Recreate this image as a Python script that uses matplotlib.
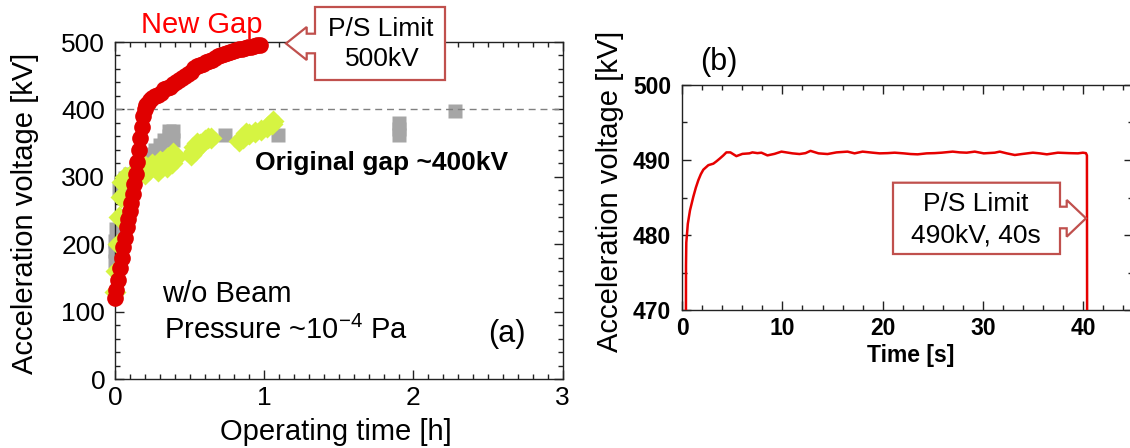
import matplotlib
matplotlib.use("Agg")
import matplotlib.pyplot as plt
from matplotlib.patches import Polygon
from matplotlib.ticker import MultipleLocator

plt.rcParams["font.family"] = ["Liberation Sans", "DejaVu Sans"]
plt.rcParams["mathtext.fontset"] = "custom"
plt.rcParams["mathtext.rm"] = "Liberation Sans"

# =========================
# (a) Konditionierung: Spannung über Betriebszeit
# =========================
new_gap_t = [0.0, 0.01, 0.022, 0.035, 0.045, 0.056, 0.068, 0.08, 0.09, 0.1,
             0.11, 0.12, 0.13, 0.14, 0.15, 0.16, 0.17, 0.18, 0.19, 0.2,
             0.21, 0.22, 0.235, 0.25, 0.27, 0.29, 0.31, 0.33, 0.35, 0.37,
             0.39, 0.41, 0.43, 0.45, 0.47, 0.49, 0.51, 0.53, 0.55, 0.57,
             0.59, 0.61, 0.63, 0.65, 0.67, 0.69, 0.71, 0.73, 0.75, 0.77,
             0.79, 0.81, 0.83, 0.85, 0.87, 0.89, 0.91, 0.93, 0.95, 0.97]
new_gap_kv = [120, 133, 147, 165, 180, 196, 210, 225, 238, 250,
              262, 275, 290, 305, 322, 340, 358, 374, 390, 400,
              406, 410, 414, 417, 420, 422, 425, 430, 432, 434,
              437, 440, 444, 447, 450, 453, 456, 461, 464, 466,
              468, 470, 472, 474, 477, 479, 481, 482, 484, 485,
              487, 488, 489, 490, 491, 492, 493, 494, 495, 496]

orig_gray_t = [0.0, 0.0, 0.003, 0.005, 0.03, 0.04, 0.07, 0.1, 0.14, 0.18,
               0.21, 0.24, 0.27, 0.3, 0.33, 0.36, 0.38, 0.39, 0.36, 0.39,
               0.74, 1.095, 1.905, 1.905, 1.905, 2.28]
orig_gray_kv = [175, 190, 205, 222, 282, 292, 298, 305, 312, 320,
                328, 334, 340, 347, 354, 360, 365, 368, 368, 355,
                362, 362, 362, 371, 380, 397]

orig_green_t = [0.0, 0.01, 0.02, 0.03, 0.04, 0.05, 0.07, 0.1, 0.12, 0.2,
                0.29, 0.35, 0.38, 0.4, 0.15, 0.2, 0.25, 0.3, 0.35, 0.39,
                0.51, 0.53, 0.55, 0.57, 0.6, 0.62, 0.64, 0.55, 0.53,
                0.83, 0.86, 0.88, 0.9, 0.94, 0.98, 1.02, 1.05, 1.06]
orig_green_kv = [130, 160, 200, 240, 270, 292, 300, 302, 303, 305,
                 308, 314, 320, 328, 312, 316, 319, 323, 328, 336,
                 333, 338, 343, 349, 354, 357, 358, 350, 345,
                 353, 358, 365, 364, 366, 370, 374, 378, 383]

orig_level_kv = 400

# =========================
# (b) Haltetest bei 490 kV
# =========================
hold_t = [0.36, 0.37, 0.4, 0.55, 0.77, 1.1, 1.35, 1.6, 1.85, 2.1,
          2.6, 3.1, 3.4, 3.76, 4.1, 4.4, 4.8, 5.4, 6.0, 6.7,
          7.0, 7.5, 7.9, 8.5, 9.2, 9.9, 11.0, 11.7, 12.3, 12.8,
          13.6, 14.5, 15.4, 16.5, 17.2, 18.0, 19.0, 19.7, 20.5, 21.2,
          22.1, 22.8, 23.5, 24.4, 25.2, 25.9, 27.0, 27.7, 28.4, 29.2,
          30.1, 31.2, 31.7, 32.4, 33.2, 33.9, 35.0, 35.7, 36.4, 37.5,
          38.6, 39.5, 40.0, 40.3, 40.4, 40.42]
hold_kv = [466, 476, 479, 481.5, 483.3, 485.1, 486.3, 487.3, 488.1, 488.7,
           489.3, 489.5, 489.8, 490.2, 490.6, 491.0, 491.0, 490.5, 490.8, 490.87,
           491.0, 490.9, 490.96, 490.6, 490.8, 491.1, 490.87, 490.78, 490.9, 491.2,
           490.87, 490.78, 491.0, 491.1, 490.87, 491.1, 490.96, 490.87, 490.9, 490.96,
           490.87, 490.78, 490.74, 490.87, 490.9, 490.96, 491.1, 491.0, 490.96, 491.1,
           490.87, 490.96, 491.1, 490.87, 490.65, 490.78, 490.96, 490.87, 490.74, 490.96,
           490.9, 490.87, 490.96, 490.9, 490.6, 466]

# =========================
# Layout (Pixel, Ursprung oben links)
# =========================
W, H = 1130, 448
CALLOUT = "#c0504d"


def fx(x):
    return x / W


def fy(y):
    return 1 - y / H


def style_axes(ax, bold=False, size=16, pad_x=6, pad_y=8):
    for sp in ax.spines.values():
        sp.set_color("#222222")
        sp.set_linewidth(1.0)
    ax.tick_params(which="both", direction="in", top=True, right=True,
                   colors="#222222", width=1.0, labelcolor="black")
    ax.tick_params(which="major", length=6.5)
    ax.tick_params(which="minor", length=3.5)
    ax.tick_params(axis="x", pad=pad_x)
    ax.tick_params(axis="y", pad=pad_y)
    for lab in ax.get_xticklabels() + ax.get_yticklabels():
        lab.set_fontsize(size)
        if bold:
            lab.set_fontweight("bold")


def callout(points, lines, centers, size=19):
    poly = Polygon([(fx(x), fy(y)) for x, y in points], closed=True,
                   transform=fig.transFigure, facecolor="white",
                   edgecolor=CALLOUT, lw=1.6, zorder=10)
    fig.add_artist(poly)
    for txt, (x, y) in zip(lines, centers):
        fig.text(fx(x), fy(y), txt, ha="center", va="center", fontsize=size, zorder=11)


fig = plt.figure(figsize=(W / 100, H / 100), dpi=100)

# ---- (a) ----
ax1 = fig.add_axes([fx(115), fy(379.2), (562.7 - 115) / W, (379.2 - 42) / H])
ax1.set_xlim(0, 3)
ax1.set_ylim(0, 500)
ax1.xaxis.set_major_locator(MultipleLocator(1))
ax1.xaxis.set_minor_locator(MultipleLocator(0.1))
ax1.yaxis.set_major_locator(MultipleLocator(100))
ax1.yaxis.set_minor_locator(MultipleLocator(20))

ax1.plot(orig_gray_t, orig_gray_kv, ls="none", marker="s", ms=10,
         color="#a6a6a6", mec="none", clip_on=False, zorder=2)
ax1.axhline(orig_level_kv, color="#808080", lw=1.0, ls=(0, (5, 3.5)), zorder=3)
ax1.plot(orig_green_t, orig_green_kv, ls="none", marker="D", ms=11,
         color="#d6f442", mec="none", clip_on=False, zorder=4)
ax1.plot(orig_green_t, orig_green_kv, ls="none", marker="o", ms=11,
         color="#d6f442", mec="none", clip_on=False, zorder=4)
ax1.plot(new_gap_t, new_gap_kv, ls="none", marker="o", ms=12,
         color="#e00000", mec="none", clip_on=False, zorder=5)
style_axes(ax1, size=19, pad_x=5, pad_y=7)

fig.text(fx(25), fy(213.5), "Acceleration voltage [kV]", rotation=90,
         ha="center", va="center", fontsize=21)
fig.text(fx(336), fy(432), "Operating time [h]", ha="center", va="center", fontsize=21)

fig.text(fx(202), fy(25), "New Gap", color="#ff0000", ha="center", va="center", fontsize=21)
fig.text(fx(255), fy(163), "Original gap ~400kV", fontweight="bold",
         ha="left", va="center", fontsize=19)
fig.text(fx(162), fy(294), "w/o Beam", ha="left", va="center", fontsize=21)
fig.text(fx(164), fy(330), r"Pressure ~10$^{\mathregular{-4}}$ Pa", ha="left",
         va="center", fontsize=21)
fig.text(fx(507), fy(334), "(a)", ha="center", va="center", fontsize=22)

callout([(315, 7), (445, 7), (445, 80), (315, 80), (315, 53.3), (306.7, 53.3),
         (306.7, 60), (286, 43.5), (306.7, 27), (306.7, 33.7), (315, 33.7)],
        ["P/S Limit", "500kV"], [(381, 29), (382, 59)])

# ---- (b) ----
ax2 = fig.add_axes([fx(682.3), fy(310.3), (1133 - 682.3) / W, (310.3 - 84.7) / H])
ax2.set_xlim(0, 45)
ax2.set_ylim(470, 500)
ax2.xaxis.set_major_locator(MultipleLocator(10))
ax2.xaxis.set_minor_locator(MultipleLocator(2))
ax2.yaxis.set_major_locator(MultipleLocator(10))
ax2.yaxis.set_minor_locator(MultipleLocator(5))

ax2.plot(hold_t, hold_kv, color="#e60000", lw=1.8, zorder=5)
style_axes(ax2, bold=True, size=16.5, pad_x=5, pad_y=8)

fig.text(fx(610), fy(191.5), "Acceleration voltage [kV]", rotation=90,
         ha="center", va="center", fontsize=21)
fig.text(fx(910.8), fy(355.8), "Time [s]", fontweight="bold",
         ha="center", va="center", fontsize=16.5)
fig.text(fx(719), fy(62), "(b)", ha="center", va="center", fontsize=22)

callout([(893, 182.7), (1060, 182.7), (1060, 206.7), (1066.7, 206.7), (1066.7, 200),
         (1086, 218.3), (1066.7, 236.7), (1066.7, 228.3), (1060, 228.3), (1060, 254),
         (893, 254)],
        ["P/S Limit", "490kV, 40s"], [(976, 204), (976, 235)])

fig.savefig("out.png", dpi=100)
